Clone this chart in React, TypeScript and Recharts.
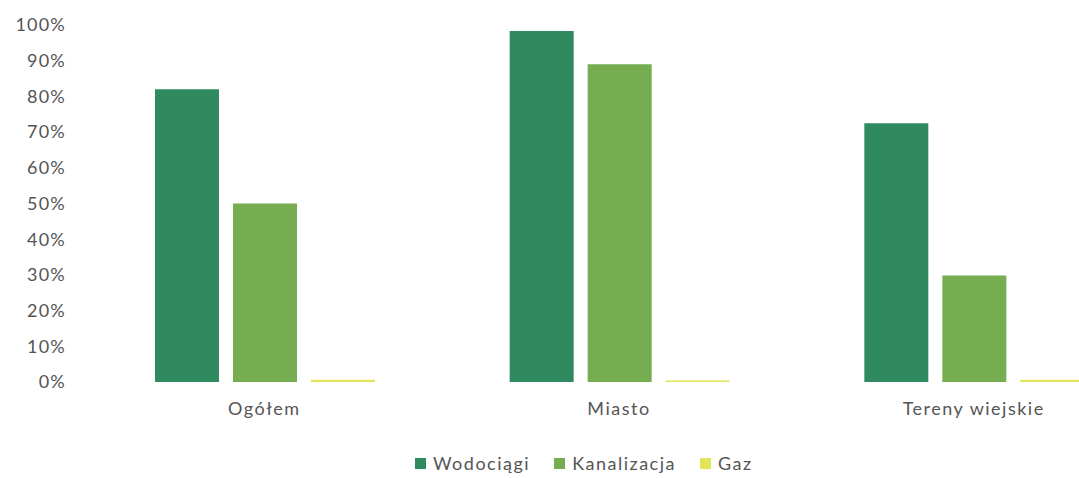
import React from 'react';
import { BarChart, Bar, XAxis, YAxis, Legend } from 'recharts';

const categories = ['Ogółem', 'Miasto', 'Tereny wiejskie'];
const wodociagi = [82, 98.3, 72.5];
const kanalizacja = [50, 89, 29.8];
const gaz = [0.6, 0.4, 0.6];
const yTicks = [0, 10, 20, 30, 40, 50, 60, 70, 80, 90, 100];
const seriesNames = ['Wodociągi', 'Kanalizacja', 'Gaz'];
const seriesColors = ['#2f8a60', '#75ad50', '#e2e45a'];

const data = categories.map((name, i) => ({
  name,
  wodociagi: wodociagi[i],
  kanalizacja: kanalizacja[i],
  gaz: gaz[i],
}));

const FONT = "Lato, 'Open Sans', sans-serif";
const TEXT = '#555555';

const LegendContent = (props: any) => {
  const payload = [...(props.payload || [])].sort(
    (a: any, b: any) => seriesNames.indexOf(a.value) - seriesNames.indexOf(b.value)
  );
  return (
    <div style={{ display: 'flex', alignItems: 'center', fontFamily: FONT, fontSize: 18, color: TEXT, letterSpacing: 1.5 }}>
      {payload.map((p: any, i: number) => (
        <div key={i} style={{ display: 'flex', alignItems: 'center', marginRight: 24 }}>
          <div style={{ width: 11, height: 11, background: p.color, marginRight: 7 }} />
          <span>{p.value}</span>
        </div>
      ))}
    </div>
  );
};

export default function App() {
  return (
    <div style={{ position: 'absolute', left: 0, top: 0, width: 1079, height: 478, overflow: 'hidden', background: '#fff' }}>
      <BarChart
        width={1162}
        height={478}
        data={data}
        margin={{ top: 25, right: 11, bottom: 1, left: 0 }}
        barCategoryGap={68}
        barGap={14}
      >
        <YAxis
          width={87}
          domain={[0, 100]}
          ticks={yTicks}
          tickFormatter={(v: number) => `${v}%`}
          axisLine={false}
          tickLine={false}
          tickSize={0}
          tickMargin={21}
          interval={0}
          tick={{ fill: TEXT, fontSize: 18, fontFamily: FONT, letterSpacing: 1.2 }}
        />
        <XAxis
          dataKey="name"
          height={73}
          axisLine={false}
          tickLine={false}
          tickSize={0}
          tickMargin={20}
          interval={0}
          tick={{ fill: TEXT, fontSize: 18, fontFamily: FONT, letterSpacing: 1.5 }}
        />
        <Legend
          verticalAlign="bottom"
          height={22}
          content={LegendContent}
          wrapperStyle={{ top: 452, left: 415, width: 'auto', bottom: 'auto' }}
        />
        <Bar dataKey="wodociagi" name={seriesNames[0]} fill={seriesColors[0]} isAnimationActive={false} />
        <Bar dataKey="kanalizacja" name={seriesNames[1]} fill={seriesColors[1]} isAnimationActive={false} />
        <Bar dataKey="gaz" name={seriesNames[2]} fill={seriesColors[2]} isAnimationActive={false} />
      </BarChart>
    </div>
  );
}
